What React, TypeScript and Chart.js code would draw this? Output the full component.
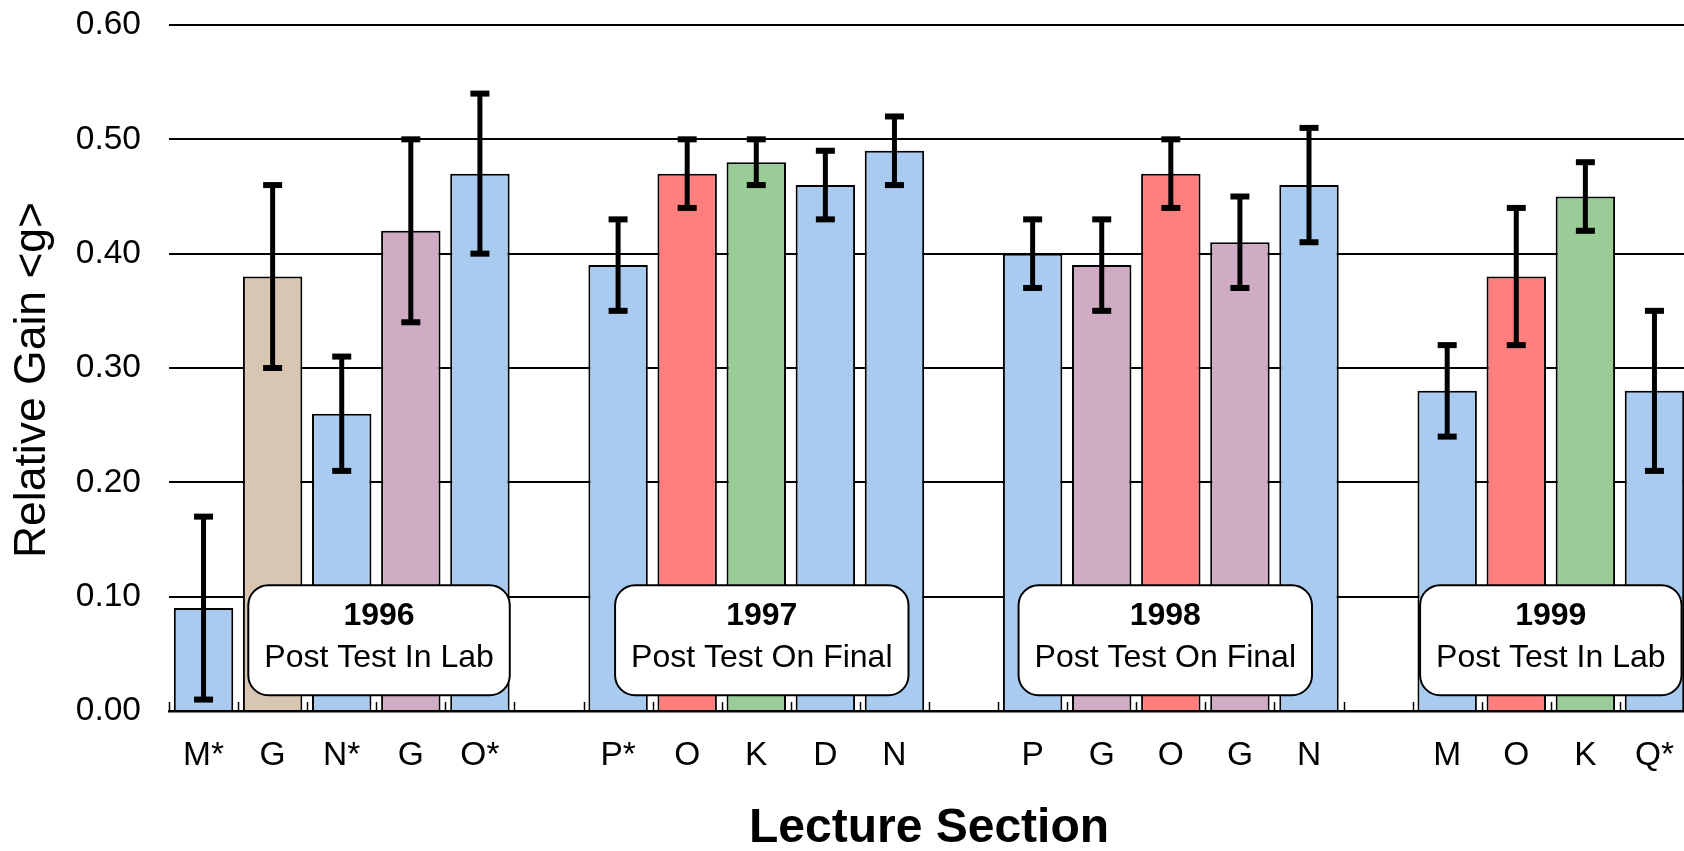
import React, { useEffect, useRef } from "react";
import { Chart, registerables } from "chart.js";

Chart.register(...registerables);

const FONT = '"Liberation Sans", Arial, sans-serif';

// Lecture sections (empty strings are the gaps between years)
const sections = ["M*", "G", "N*", "G", "O*", "", "P*", "O", "K", "D", "N", "", "P", "G", "O", "G", "N", "", "M", "O", "K", "Q*"];
// Relative gain <g>
const gains = [0.09, 0.38, 0.26, 0.42, 0.47, null, 0.39, 0.47, 0.48, 0.46, 0.49, null, 0.40, 0.39, 0.47, 0.41, 0.46, null, 0.28, 0.38, 0.45, 0.28];
// Error bar ends
const errUpper = [0.17, 0.46, 0.31, 0.50, 0.54, null, 0.43, 0.50, 0.50, 0.49, 0.52, null, 0.43, 0.43, 0.50, 0.45, 0.51, null, 0.32, 0.44, 0.48, 0.35];
const errLower = [0.01, 0.30, 0.21, 0.34, 0.40, null, 0.35, 0.44, 0.46, 0.43, 0.46, null, 0.37, 0.35, 0.44, 0.37, 0.41, null, 0.24, 0.32, 0.42, 0.21];

const BLUE = "#A9CBEF";
const RED = "#FF7F7F";
const GREEN = "#9ACC98";
const MAUVE = "#CFABC4";
const TAN = "#D8C6B2";
const barColors = [BLUE, TAN, BLUE, MAUVE, BLUE, BLUE, BLUE, RED, GREEN, BLUE, BLUE, BLUE, BLUE, MAUVE, RED, MAUVE, BLUE, BLUE, BLUE, RED, GREEN, BLUE];

// Year annotation boxes
const yearLabels = ["1996", "1997", "1998", "1999"];
const testLabels = ["Post Test In Lab", "Post Test On Final", "Post Test On Final", "Post Test In Lab"];
const yearAnchors = [2.54, 8.08, 13.92, 19.5];
const boxTopValue = 0.11;

const Y_TITLE = "Relative Gain <g>";

const slotTicks = {
  id: "slotTicks",
  beforeDatasetsDraw(chart: any) {
    const { ctx, chartArea } = chart;
    const xs = chart.scales.x;
    ctx.save();
    ctx.strokeStyle = "#000";
    ctx.lineWidth = 1.5;
    for (let i = 0; i <= sections.length; i++) {
      const px = Math.round(xs.getPixelForValue(i - 0.5)) + 0.5;
      ctx.beginPath();
      ctx.moveTo(px, chartArea.bottom);
      ctx.lineTo(px, chartArea.bottom - 9);
      ctx.stroke();
    }
    ctx.restore();
  },
};

const errorBars = {
  id: "errorBars",
  afterDatasetsDraw(chart: any) {
    const { ctx } = chart;
    const ys = chart.scales.y;
    const meta = chart.getDatasetMeta(0);
    ctx.save();
    ctx.strokeStyle = "#000";
    ctx.fillStyle = "#000";
    for (let i = 0; i < gains.length; i++) {
      if (gains[i] == null || errUpper[i] == null || errLower[i] == null) continue;
      const el = meta.data[i];
      const x = el.x;
      const yt = ys.getPixelForValue(errUpper[i]);
      const yb = ys.getPixelForValue(errLower[i]);
      ctx.lineWidth = 5;
      ctx.beginPath();
      ctx.moveTo(x, yt);
      ctx.lineTo(x, yb);
      ctx.stroke();
      ctx.fillRect(x - 9.5, yt - 3, 19, 6);
      ctx.fillRect(x - 9.5, yb - 3, 19, 6);
    }
    ctx.restore();
  },
};

const yearBoxes = {
  id: "yearBoxes",
  afterDatasetsDraw(chart: any) {
    const { ctx } = chart;
    const xs = chart.scales.x;
    const ys = chart.scales.y;
    ctx.save();
    for (let k = 0; k < yearLabels.length; k++) {
      ctx.font = `bold 32px ${FONT}`;
      const w1 = ctx.measureText(yearLabels[k]).width;
      ctx.font = `32px ${FONT}`;
      const w2 = ctx.measureText(testLabels[k]).width;
      const w = Math.max(w1, w2) + 32;
      const h = 110;
      const cx = xs.getPixelForValue(yearAnchors[k]);
      const top = ys.getPixelForValue(boxTopValue);
      ctx.beginPath();
      ctx.roundRect(cx - w / 2, top, w, h, 20);
      ctx.fillStyle = "#fff";
      ctx.fill();
      ctx.lineWidth = 2;
      ctx.strokeStyle = "#000";
      ctx.stroke();
      ctx.fillStyle = "#000";
      ctx.textAlign = "center";
      ctx.textBaseline = "middle";
      ctx.font = `bold 32px ${FONT}`;
      ctx.fillText(yearLabels[k], cx, top + 31);
      ctx.font = `32px ${FONT}`;
      ctx.fillText(testLabels[k], cx, top + 73);
    }
    ctx.restore();
  },
};

const yTitle = {
  id: "yTitle",
  afterDraw(chart: any) {
    const { ctx, chartArea } = chart;
    ctx.save();
    ctx.translate(33, (chartArea.top + chartArea.bottom) / 2 + 12);
    ctx.rotate(-Math.PI / 2);
    ctx.textAlign = "center";
    ctx.textBaseline = "middle";
    ctx.fillStyle = "#000";
    ctx.font = `44.5px ${FONT}`;
    ctx.fillText(Y_TITLE, 0, 0);
    ctx.restore();
  },
};

export default function App() {
  const ref = useRef<HTMLCanvasElement | null>(null);
  useEffect(() => {
    if (!ref.current) return;
    const chart = new Chart(ref.current, {
      type: "bar",
      data: {
        labels: sections,
        datasets: [
          {
            data: gains as any,
            backgroundColor: barColors,
            borderColor: "#000",
            borderWidth: 2,
            barPercentage: 0.86,
            categoryPercentage: 1,
          },
        ],
      },
      options: {
        animation: false,
        responsive: false,
        devicePixelRatio: 1,
        layout: { padding: { top: 25, left: 0, right: 0, bottom: 0 } },
        plugins: { legend: { display: false }, tooltip: { enabled: false } },
        scales: {
          x: {
            offset: true,
            ticks: { font: { family: FONT, size: 33.5 }, color: "#000", padding: 25, autoSkip: false, maxRotation: 0 },
            grid: { display: false, drawTicks: false },
            border: { display: true, color: "#000", width: 2.5 },
            title: {
              display: true,
              text: "Lecture Section",
              font: { family: FONT, size: 48, weight: "bold", lineHeight: 1 },
              color: "#000",
              padding: { top: 0, bottom: -2 },
            },
            afterFit: (s: any) => {
              s.height = 140;
              s.paddingLeft = 0;
              s.paddingRight = 0;
            },
          },
          y: {
            min: 0,
            max: 0.6,
            ticks: {
              stepSize: 0.1,
              callback: (v: any) => Number(v).toFixed(2),
              font: { family: FONT, size: 33.5 },
              color: "#000",
              padding: 28,
            },
            grid: { color: "#000", lineWidth: 2, drawTicks: false },
            border: { display: false },
            title: { display: false },
            afterFit: (s: any) => {
              s.width = 169;
              s.paddingTop = 0;
              s.paddingBottom = 0;
            },
          },
        },
      },
      plugins: [slotTicks, errorBars, yearBoxes, yTitle],
    });
    return () => chart.destroy();
  }, []);
  return (
    <div style={{ position: "absolute", left: 0, top: 0, width: 1684, height: 851, overflow: "hidden", background: "#fff" }}>
      <canvas ref={ref} width={1689} height={851} style={{ display: "block" }} />
    </div>
  );
}
